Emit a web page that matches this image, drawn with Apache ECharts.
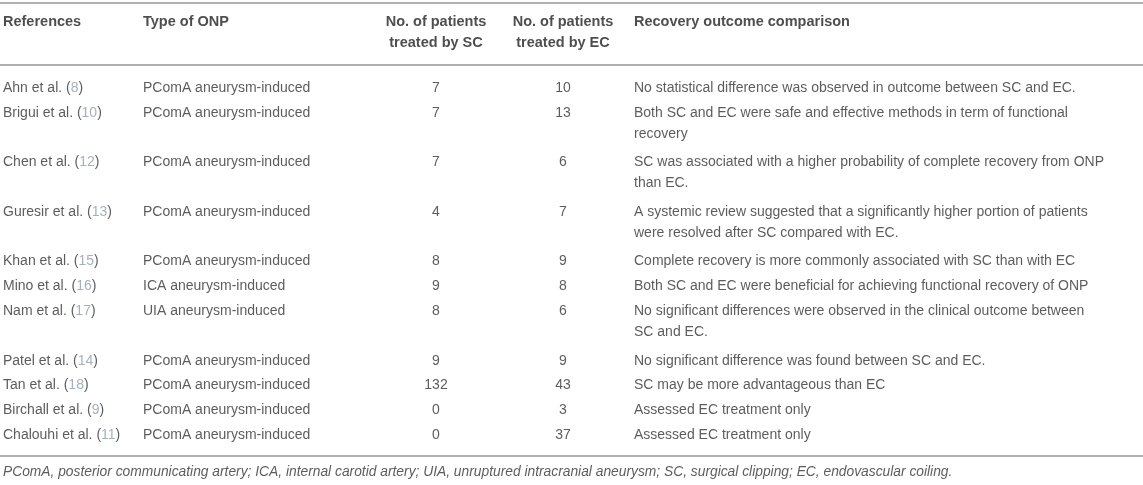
<!DOCTYPE html>
<html>
<head>
<meta charset="utf-8">
<title>ONP recovery – SC vs EC</title>
<script src="https://cdn.jsdelivr.net/npm/echarts@6/dist/echarts.min.js"></script>
<style>
  html, body { margin: 0; padding: 0; background: #fff; }
  #main { width: 1143px; height: 485px; }
</style>
</head>
<body>
<div id="main"></div>
<script>
// table content
var headers = [
  ['References'],
  ['Type of ONP'],
  ['No. of patients', 'treated by SC'],
  ['No. of patients', 'treated by EC'],
  ['Recovery outcome comparison']
];
var authors = ['Ahn et al.', 'Brigui et al.', 'Chen et al.', 'Guresir et al.', 'Khan et al.', 'Mino et al.',
  'Nam et al.', 'Patel et al.', 'Tan et al.', 'Birchall et al.', 'Chalouhi et al.'];
var refNums = [8, 10, 12, 13, 15, 16, 17, 14, 18, 9, 11];
var onpTypes = ['PComA aneurysm-induced', 'PComA aneurysm-induced', 'PComA aneurysm-induced', 'PComA aneurysm-induced',
  'PComA aneurysm-induced', 'ICA aneurysm-induced', 'UIA aneurysm-induced', 'PComA aneurysm-induced',
  'PComA aneurysm-induced', 'PComA aneurysm-induced', 'PComA aneurysm-induced'];
var scCounts = [7, 7, 7, 4, 8, 9, 8, 9, 132, 0, 0];
var ecCounts = [10, 13, 6, 7, 9, 8, 6, 9, 43, 3, 37];
var outcomes = [
  ['No statistical difference was observed in outcome between SC and EC.'],
  ['Both SC and EC were safe and effective methods in term of functional', 'recovery'],
  ['SC was associated with a higher probability of complete recovery from ONP', 'than EC.'],
  ['A systemic review suggested that a significantly higher portion of patients', 'were resolved after SC compared with EC.'],
  ['Complete recovery is more commonly associated with SC than with EC'],
  ['Both SC and EC were beneficial for achieving functional recovery of ONP'],
  ['No significant differences were observed in the clinical outcome between', 'SC and EC.'],
  ['No significant difference was found between SC and EC.'],
  ['SC may be more advantageous than EC'],
  ['Assessed EC treatment only'],
  ['Assessed EC treatment only']
];
var footnote = 'PComA, posterior communicating artery; ICA, internal carotid artery; UIA, unruptured intracranial aneurysm; SC, surgical clipping; EC, endovascular coiling.';

// layout (pixels on the hidden axes)
var colX = [3, 143, 436, 563, 634];
var headY = 22, lineGap = 21, firstRowY = 88, slotH = 24.8;
var rules = [3, 65, 456];
var footY = 472;
var FONT = '"Liberation Sans", Arial, Helvetica, sans-serif';

var chart = echarts.init(document.getElementById('main'));

// row y positions: wrapped rows take two slots
var rowY = [], slot = 0;
outcomes.forEach(function (lines) {
  rowY.push(firstRowY + slot * slotH);
  slot += lines.length;
});

var headData = [];
headers.forEach(function (lines, c) {
  lines.forEach(function (t, i) {
    headData.push({ value: [colX[c], headY + i * lineGap], name: t,
      label: { align: (c === 2 || c === 3) ? 'center' : 'left' } });
  });
});

var refData = authors.map(function (a, i) {
  return { value: [colX[0], rowY[i]], name: a + ' ({n|' + refNums[i] + '})' };
});
var typeData = onpTypes.map(function (t, i) { return { value: [colX[1], rowY[i]], name: t }; });
var scData = scCounts.map(function (v, i) { return { value: [colX[2], rowY[i]], name: String(v) }; });
var ecData = ecCounts.map(function (v, i) { return { value: [colX[3], rowY[i]], name: String(v) }; });
var outData = [];
outcomes.forEach(function (lines, i) {
  lines.forEach(function (t, k) {
    outData.push({ value: [colX[4], rowY[i] + k * lineGap], name: t });
  });
});

function textSeries(name, data, align, extra) {
  var lab = {
    show: true, position: 'inside', align: align, verticalAlign: 'middle',
    formatter: '{b}', color: '#333', fontSize: 14, fontFamily: FONT
  };
  if (extra) Object.keys(extra).forEach(function (k) { lab[k] = extra[k]; });
  return { name: name, type: 'scatter', symbolSize: 0, data: data, label: lab, silent: true };
}

var series = [
  textSeries('header', headData, 'left', { fontWeight: 'bold', color: '#222', fontSize: 14.5 }),
  textSeries('refs', refData, 'left', { rich: { n: { color: '#8d9cad', fontSize: 14, fontFamily: FONT } } }),
  textSeries('type', typeData, 'left'),
  textSeries('sc', scData, 'center'),
  textSeries('ec', ecData, 'center'),
  textSeries('outcome', outData, 'left'),
  textSeries('foot', [{ value: [3, footY], name: footnote }], 'left', { fontStyle: 'italic', color: '#333', fontSize: 13.8 })
];
series[0].markLine = {
  silent: true, symbol: 'none', label: { show: false },
  lineStyle: { color: '#b0b0b0', width: 2, type: 'solid' },
  data: rules.map(function (y) { return { yAxis: y }; })
};

chart.setOption({
  animation: false,
  grid: { left: 0, right: 0, top: 0, bottom: 0 },
  xAxis: { type: 'value', min: 0, max: 1143, show: false },
  yAxis: { type: 'value', min: 0, max: 485, inverse: true, show: false },
  series: series
});
</script>
</body>
</html>
